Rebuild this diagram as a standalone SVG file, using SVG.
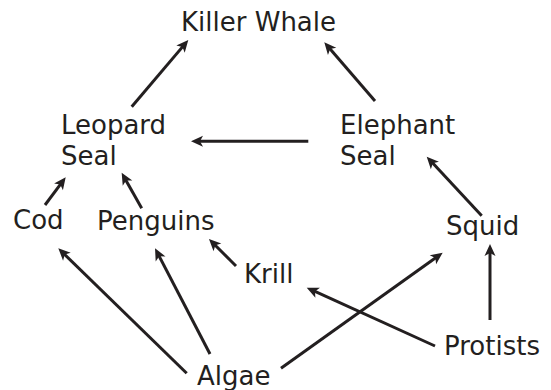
<svg xmlns="http://www.w3.org/2000/svg" width="551" height="390" viewBox="0 0 551 390">
<style>
text{font-family:"DejaVu Sans","Liberation Sans",sans-serif;font-size:26px;fill:#231f20}
.c line{stroke:#231f20;stroke-width:3;marker-end:url(#ah)}
</style>
<defs>
<marker id="ah" markerUnits="userSpaceOnUse" markerWidth="20" markerHeight="20" viewBox="-10 -10 20 20" refX="0" refY="0" orient="auto" overflow="visible">
<path d="M6,0 L-6,-5.5 L-3,0 L-6,5.5 Z" fill="#231f20"/>
</marker>
</defs>
<rect width="551" height="390" fill="#fff"/>
<g id="killer-whale"><text x="181" y="31">Killer Whale</text></g>
<g id="leopard-seal"><text x="61" y="134">Leopard</text><text x="61" y="165">Seal</text></g>
<g id="elephant-seal"><text x="340" y="134">Elephant</text><text x="340" y="165">Seal</text></g>
<g id="cod"><text x="13" y="229">Cod</text></g>
<g id="penguins"><text x="97" y="230">Penguins</text></g>
<g id="squid"><text x="446" y="235">Squid</text></g>
<g id="krill"><text x="244" y="283">Krill</text></g>
<g id="protists"><text x="444" y="355">Protists</text></g>
<g id="algae"><text x="197" y="385">Algae</text></g>
<g id="connectors" class="c">
<line x1="131.7" y1="106.7" x2="184.4" y2="44.6"/>
<line x1="375" y1="101" x2="328.2" y2="46.8"/>
<line x1="308.3" y1="141.3" x2="197" y2="141.3"/>
<line x1="45" y1="205" x2="62.1" y2="182.1"/>
<line x1="141.7" y1="208.3" x2="124.6" y2="177.9"/>
<line x1="481.7" y1="215.7" x2="430.8" y2="161.1"/>
<line x1="236" y1="266" x2="213.2" y2="243.2"/>
<line x1="435" y1="346" x2="312.2" y2="290.2"/>
<line x1="490" y1="320" x2="490" y2="250"/>
<line x1="281" y1="368.3" x2="437.8" y2="256.2"/>
<line x1="210" y1="354" x2="157.8" y2="253.6"/>
<line x1="186.7" y1="373.3" x2="62.6" y2="252.5"/>
</g>
</svg>
